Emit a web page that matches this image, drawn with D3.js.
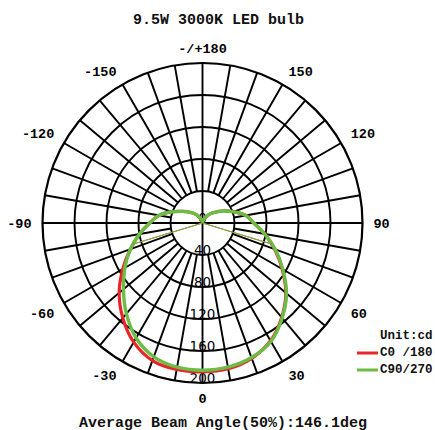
<!DOCTYPE html>
<html>
<head>
<meta charset="utf-8">
<script src="https://cdn.jsdelivr.net/npm/d3@7"></script>
<style>
  html, body { margin: 0; padding: 0; background: #fff; }
  svg { display: block; }
</style>
</head>
<body>
<svg id="chart" width="435" height="430"></svg>
<script>
// ---- data ----
const title = "9.5W 3000K LED bulb";
const footer = "Average Beam Angle(50%):146.1deg";
const beamAngle = 146.1;
const unitLabel = "Unit:cd";
const seriesNames = ["C0 /180", "C90/270"];
const seriesColors = ["#e8262a", "#6cbd45"];
const angles = [-180,-170,-160,-150,-140,-130,-120,-110,-100,-90,-80,-70,-60,-50,-40,-30,-20,-10,0,
                10,20,30,40,50,60,70,80,90,100,110,120,130,140,150,160,170,180];
const c0Values = [0,2,5,9,15,21,29,41,55,66,80,96,115,136,155,172,183,186,186,
                  185,180,170,154,136,115,96,79,64,55,41,30,21,15,9,5,2,0];
const c90Values = [0,2,5,9,15,21,29,41,55,66,80,96,112,129,148,166,178,183,184,
                   183,179,171,155,137,116,97,79,64,55,41,30,21,15,9,5,2,0];
const ringValues = [40,80,120,160,200];
const spokeAngles = d3.range(-180, 180, 10);
const angleLabels = [[180,"-/+180"],[150,"150"],[120,"120"],[90,"90"],[60,"60"],[30,"30"],[0,"0"],
                     [-30,"-30"],[-60,"-60"],[-90,"-90"],[-120,"-120"],[-150,"-150"]];

// ---- layout ----
const cx = 202.5, cy = 223, R = 160;
const svg = d3.select("#chart");
const r = d3.scaleLinear().domain([0, 200]).range([0, R]);
const toRad = d => (180 - d) * Math.PI / 180; // 0 = down, 90 = right
const g = svg.append("g").attr("transform", `translate(${cx},${cy})`);

// rings
g.selectAll("circle.ring").data(ringValues).join("circle")
  .attr("r", d => r(d)).attr("fill", "none").attr("stroke", "#000")
  .attr("stroke-width", d => d === 200 ? 2.2 : 1.9);

// spokes
g.selectAll("line.spoke").data(spokeAngles).join("line")
  .attr("x1", d => (d % 90 === 0 ? 0 : r(40)) * Math.sin(toRad(d)))
  .attr("y1", d => -(d % 90 === 0 ? 0 : r(40)) * Math.cos(toRad(d)))
  .attr("x2", d => R * Math.sin(toRad(d)))
  .attr("y2", d => -R * Math.cos(toRad(d)))
  .attr("stroke", "#000").attr("stroke-width", 1.9);

// ring labels
g.selectAll("text.ringlab").data([0].concat(ringValues)).join("text")
  .attr("x", 0).attr("y", d => r(d))
  .attr("text-anchor", "middle")
  .attr("font-family", "DejaVu Sans, sans-serif").attr("font-size", 13.5)
  .attr("fill", "#000")
  .text(d => d);

// angle labels (anchored outward from a point just outside the rim)
const labR = 170;
g.selectAll("text.anglab").data(angleLabels).join("text")
  .each(function(d) {
    const a = toRad(d[0]);
    const x = labR * Math.sin(a), y = -labR * Math.cos(a);
    const sx = Math.abs(x) < 1 ? 0 : Math.sign(x);
    const sy = Math.abs(y) < 1 ? 0 : Math.sign(y);
    d3.select(this)
      .attr("x", x + sx * 1)
      .attr("y", y + (sy < 0 ? 0 : sy > 0 ? 9.5 : 4.5))
      .attr("text-anchor", sx > 0 ? "start" : sx < 0 ? "end" : "middle");
  })
  .attr("font-family", "Liberation Mono, Courier New, monospace")
  .attr("font-weight", "bold").attr("font-size", 13.5)
  .attr("fill", "#000")
  .text(d => d[1]);

// curves
const series = [c0Values, c90Values];
const line = d3.lineRadial()
  .angle((d, i) => toRad(angles[i]))
  .radius(d => r(d))
  .curve(d3.curveCatmullRom.alpha(0.5));

series.forEach((vals, k) => {
  g.append("path").datum(vals)
    .attr("d", line)
    .attr("fill", "none")
    .attr("stroke", seriesColors[k])
    .attr("stroke-width", k === 0 ? 3.2 : 3.4)
    .attr("stroke-linejoin", "round");
});

// beam angle lines
const half = beamAngle / 2;
series.forEach((vals, k) => {
  const interp = d3.scaleLinear().domain(angles).range(vals);
  [-half, half].forEach(a => {
    const rr = r(interp(a));
    g.append("line")
      .attr("x1", 0).attr("y1", 0)
      .attr("x2", rr * Math.sin(toRad(a)))
      .attr("y2", -rr * Math.cos(toRad(a)))
      .attr("stroke", seriesColors[k]).attr("stroke-width", 1);
  });
});

// title & footer
svg.append("text").attr("x", 218.5).attr("y", 20)
  .attr("text-anchor", "middle").attr("dominant-baseline", "central")
  .attr("font-family", "Liberation Mono, Courier New, monospace")
  .attr("font-weight", "bold").attr("font-size", 15).attr("fill", "#111")
  .text(title);
svg.append("text").attr("x", 223).attr("y", 423)
  .attr("text-anchor", "middle").attr("dominant-baseline", "central")
  .attr("font-family", "Liberation Mono, Courier New, monospace")
  .attr("font-weight", "bold").attr("font-size", 15).attr("fill", "#111")
  .text(footer);

// legend
const lg = svg.append("g").attr("font-family", "Liberation Mono, Courier New, monospace")
  .attr("font-weight", "bold").attr("font-size", 12.5).attr("fill", "#111");
lg.append("text").attr("x", 380).attr("y", 336).attr("dominant-baseline", "central").text(unitLabel);
seriesNames.forEach((n, k) => {
  const y = 353 + k * 17;
  lg.append("line").attr("x1", 357).attr("x2", 378).attr("y1", y).attr("y2", y)
    .attr("stroke", seriesColors[k]).attr("stroke-width", 3);
  lg.append("text").attr("x", 380).attr("y", y).attr("dominant-baseline", "central").text(n);
});
</script>
</body>
</html>
